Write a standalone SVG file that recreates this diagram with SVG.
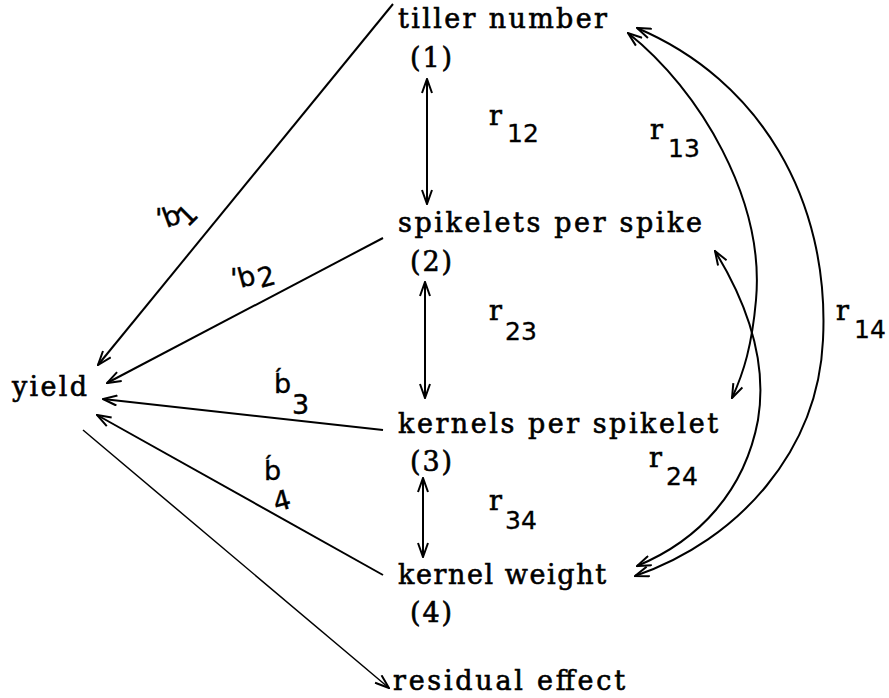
<svg xmlns="http://www.w3.org/2000/svg" width="889" height="698" viewBox="0 0 889 698">
<style>
.t{font-family:"DejaVu Serif","Liberation Serif",serif;font-size:27px;fill:#000;stroke:#000;stroke-width:0.6}
.s{font-family:"DejaVu Sans",sans-serif;font-size:25px;fill:#000;stroke:#000;stroke-width:0.3}
.h{font-family:"DejaVu Sans",sans-serif;font-size:27px;fill:#000;stroke:#000;stroke-width:0.4}
.c{fill:none;stroke:#000;stroke-width:2}
.thin{fill:none;stroke:#000;stroke-width:1.5}
</style>
<defs>
<marker id="ah" viewBox="0 0 16 12" refX="15" refY="6" markerWidth="16" markerHeight="12" markerUnits="userSpaceOnUse" orient="auto-start-reverse">
<path d="M1,1 L15,6 L1,11" fill="none" stroke="#000" stroke-width="2"/>
</marker>
</defs>
<rect width="889" height="698" fill="#fff"/>
<g id="connectors">
<path class="c" d="M393,4 L98,365" marker-end="url(#ah)"/>
<path class="c" d="M383,238 L107,383" marker-end="url(#ah)"/>
<path class="c" d="M383,430 L103,399" marker-end="url(#ah)"/>
<path class="c" d="M383,575 L97,415" marker-end="url(#ah)"/>
<path class="thin" d="M83,430 L389,688" marker-end="url(#ah)"/>
<path class="c" d="M427,79 L427,204" marker-start="url(#ah)" marker-end="url(#ah)"/>
<path class="c" d="M425,282 L425,398" marker-start="url(#ah)" marker-end="url(#ah)"/>
<path class="c" d="M423,478 L423,557" marker-start="url(#ah)" marker-end="url(#ah)"/>
<path class="c" d="M628,33 C700,90 765,200 756,300 C752,345 744,372 732,398" marker-start="url(#ah)" marker-end="url(#ah)"/>
<path class="c" d="M715,251 C745,300 768,360 758,420 C745,490 700,540 637,566" marker-start="url(#ah)" marker-end="url(#ah)"/>
<path class="c" d="M637,28 C760,80 830,200 823,340 C818,450 740,540 635,576" marker-start="url(#ah)" marker-end="url(#ah)"/>
</g>
<g id="n1"><text class="t" x="398" y="28" textLength="209" lengthAdjust="spacing">tiller number</text><text class="t" x="410" y="67" textLength="42" lengthAdjust="spacing">(1)</text></g>
<g id="n2"><text class="t" x="398" y="232" textLength="304" lengthAdjust="spacing">spikelets per spike</text><text class="t" x="410" y="271" textLength="42" lengthAdjust="spacing">(2)</text></g>
<g id="n3"><text class="t" x="398" y="433" textLength="320" lengthAdjust="spacing">kernels per spikelet</text><text class="t" x="410" y="471" textLength="42" lengthAdjust="spacing">(3)</text></g>
<g id="n4"><text class="t" x="398" y="584" textLength="208" lengthAdjust="spacing">kernel weight</text><text class="t" x="410" y="622" textLength="42" lengthAdjust="spacing">(4)</text></g>
<g id="yield"><text class="t" x="12" y="396" textLength="75" lengthAdjust="spacing">yield</text></g>
<g id="residual"><text class="t" x="393" y="690" textLength="232" lengthAdjust="spacing">residual effect</text></g>
<g id="labels">
<text class="t" x="489" y="125">r</text><text class="s" x="507" y="142">12</text>
<text class="t" x="650" y="139">r</text><text class="s" x="668" y="157">13</text>
<text class="t" x="489" y="320">r</text><text class="s" x="505" y="340">23</text>
<text class="t" x="649" y="467">r</text><text class="s" x="666" y="485">24</text>
<text class="t" x="489" y="510">r</text><text class="s" x="505" y="529">34</text>
<text class="t" x="836" y="320">r</text><text class="s" x="854" y="338">14</text>
<text class="h" x="155" y="228" letter-spacing="4" rotate="0 -20 -45">'b1</text>
<text class="h" x="230" y="288" letter-spacing="3" rotate="0 -15 -15">'b2</text>
<text class="h" x="274" y="393">b́</text><text class="h" x="292" y="414">3</text>
<text class="h" x="264" y="480">b́</text><text class="h" x="276" y="512" rotate="-15">4</text>
</g>
</svg>
